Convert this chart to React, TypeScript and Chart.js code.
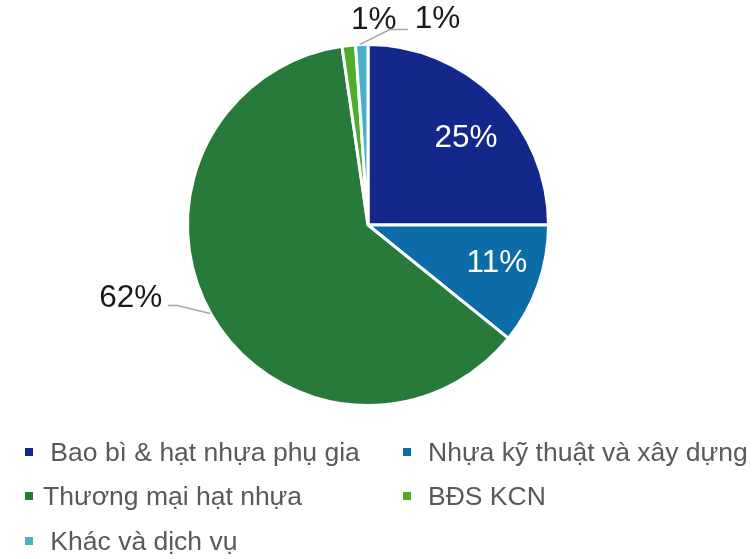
import React, { useEffect, useRef } from "react";
import { Chart, registerables } from "chart.js";

Chart.register(...registerables);

const categories = [
  "Bao bì & hạt nhựa phụ gia",
  "Nhựa kỹ thuật và xây dựng",
  "Thương mại hạt nhựa",
  "BĐS KCN",
  "Khác và dịch vụ",
];
const shares = [25.0, 10.8, 61.9, 1.2, 1.1];
const colors = ["#13288A", "#0B6CA8", "#277A3A", "#4DAE2E", "#4BAFC8"];
// legend layout: [column, row]
const legendSlots = [
  [0, 0],
  [1, 0],
  [0, 1],
  [1, 1],
  [0, 2],
];
const legendLeading = [" ", "", "", "", " "];

const FONT = "'Liberation Sans', Arial, Helvetica, sans-serif";

const labelPlugin = {
  id: "sliceLabels",
  afterDatasetsDraw(chart: any) {
    const ctx = chart.ctx;
    const meta = chart.getDatasetMeta(0);
    const data = chart.data.datasets[0].data as number[];
    const total = data.reduce((a, b) => a + b, 0);
    const nudge = [
      [3.5, 8],
      [3, -6],
    ];
    ctx.save();
    ctx.font = `31.5px ${FONT}`;
    ctx.textBaseline = "middle";
    meta.data.forEach((arc: any, i: number) => {
      const { x, y, startAngle, endAngle, outerRadius } = arc.getProps(
        ["x", "y", "startAngle", "endAngle", "outerRadius"],
        true
      );
      const mid = (startAngle + endAngle) / 2;
      const txt = Math.round((data[i] / total) * 100) + "%";
      const cos = Math.cos(mid);
      const sin = Math.sin(mid);
      if (i === 0 || i === 1) {
        const r = outerRadius * 0.74;
        ctx.fillStyle = "#FFFFFF";
        ctx.textAlign = "center";
        ctx.fillText(txt, x + r * cos + nudge[i][0], y + r * sin + nudge[i][1]);
        return;
      }
      const ex = x + outerRadius * cos;
      const ey = y + outerRadius * sin;
      ctx.strokeStyle = "#A6A6A6";
      ctx.lineWidth = 1.5;
      ctx.fillStyle = "#1A1A1A";
      if (i === 2) {
        ctx.beginPath();
        ctx.moveTo(ex - 1, ey - 1);
        ctx.lineTo(ex - 34, ey - 9);
        ctx.lineTo(ex - 43, ey - 9);
        ctx.stroke();
        ctx.textAlign = "right";
        ctx.fillText(txt, ex - 49, ey - 16);
      } else if (i === 3) {
        ctx.textAlign = "center";
        ctx.fillText(txt, ex + 25, ey - 25);
      } else if (i === 4) {
        ctx.beginPath();
        ctx.moveTo(ex - 2, ey);
        ctx.lineTo(ex + 28, ey - 15);
        ctx.lineTo(ex + 46, ey - 15);
        ctx.stroke();
        ctx.textAlign = "left";
        ctx.fillText(txt, ex + 53, ey - 25);
      }
    });
    ctx.restore();
  },
};

export default function App() {
  const ref = useRef<HTMLCanvasElement | null>(null);
  useEffect(() => {
    if (!ref.current) return;
    const chart = new Chart(ref.current, {
      type: "pie",
      data: {
        labels: categories,
        datasets: [
          {
            data: shares,
            backgroundColor: colors,
            borderColor: "#FFFFFF",
            borderWidth: 3,
          },
        ],
      },
      options: {
        responsive: false,
        animation: false,
        layout: { padding: { left: 186, right: 206, top: 43, bottom: 152 } },
        plugins: {
          legend: { display: false },
          tooltip: { enabled: false },
        },
      },
      plugins: [labelPlugin],
    });
    return () => chart.destroy();
  }, []);

  const colX = [25, 403];
  const textX = [43, 428];
  const rowY = [452, 496, 541];

  return (
    <div
      style={{
        position: "fixed",
        left: 0,
        top: 0,
        width: 756,
        height: 559,
        background: "#FFFFFF",
        fontFamily: FONT,
      }}
    >
      <canvas ref={ref} width={756} height={559} style={{ position: "absolute", left: 0, top: 0 }} />
      {categories.map((c, i) => {
        const [col, row] = legendSlots[i];
        return (
          <React.Fragment key={c}>
            <div
              style={{
                position: "absolute",
                left: colX[col],
                top: rowY[row] - 4,
                width: 8,
                height: 8,
                background: colors[i],
              }}
            />
            <div
              style={{
                position: "absolute",
                left: textX[col],
                top: rowY[row] - 15,
                height: 30,
                lineHeight: "30px",
                fontSize: 26.5,
                color: "#595959",
                whiteSpace: "pre",
              }}
            >
              {(col === 0 ? legendLeading[i] : "") + c}
            </div>
          </React.Fragment>
        );
      })}
    </div>
  );
}
